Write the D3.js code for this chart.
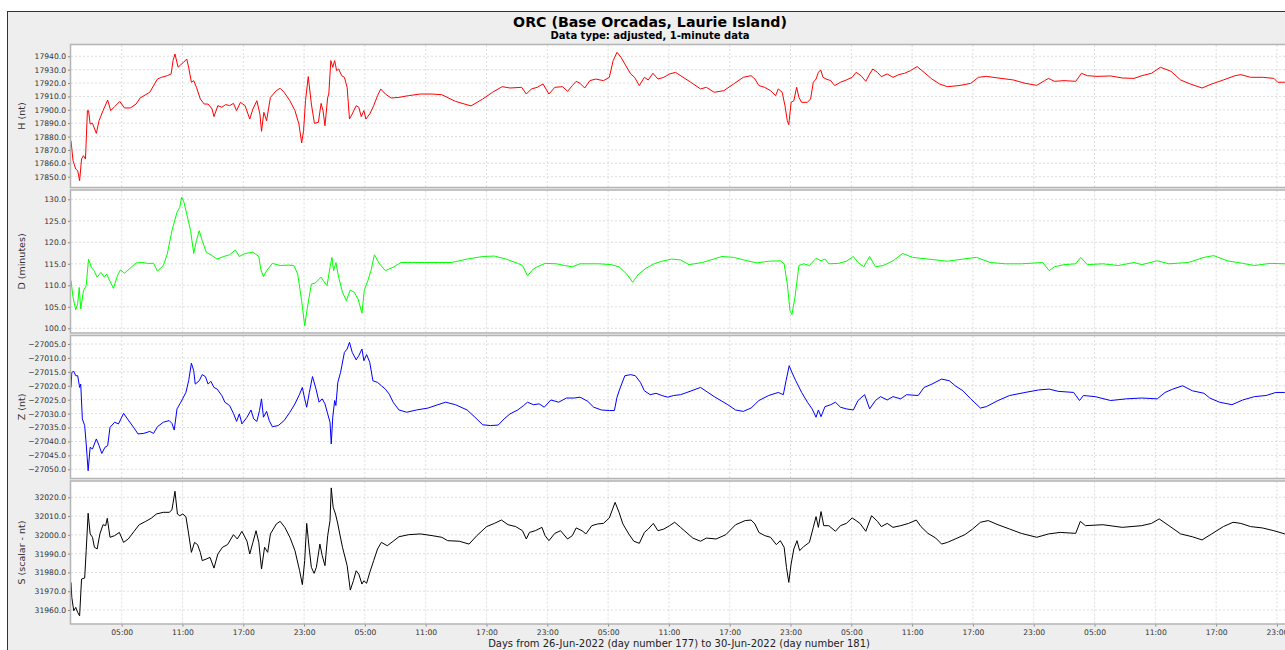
<!DOCTYPE html>
<html><head><meta charset="utf-8">
<script src="https://cdn.jsdelivr.net/npm/d3@7"></script>
<style>body{margin:0;background:#fff;overflow:hidden}svg{display:block;font-family:"DejaVu Sans",sans-serif}</style>
</head><body><svg id="c" width="1285" height="650"></svg>
<script>
const title = "ORC (Base Orcadas, Laurie Island)";
const subtitle = "Data type: adjusted, 1-minute data";
const xAxisTitle = "Days from 26-Jun-2022 (day number 177) to 30-Jun-2022 (day number 181)";
const startUTC = Date.UTC(2022, 5, 26);
const totalHours = 120;
const xTickHours = [5,11,17,23,29,35,41,47,53,59,65,71,77,83,89,95,101,107,113,119];
const yLabels = ["H (nt)", "D (minutes)", "Z (nt)", "S (scalar - nt)"];
const hTicks = [17850,17860,17870,17880,17890,17900,17910,17920,17930,17940];
const dTicks = [100,105,110,115,120,125,130];
const zTicks = [-27050,-27045,-27040,-27035,-27030,-27025,-27020,-27015,-27010,-27005];
const sTicks = [31960,31970,31980,31990,32000,32010,32020];
const hDomain = [17842.3, 17948.45];
const dDomain = [99.02, 132.05];
const zDomain = [-27053.12, -27002.13];
const sDomain = [31952.81, 32028.41];

// [hours since 26-Jun-2022 00:00 UT, value]
const H = [[0,17876.9],[0.2,17862],[0.47,17855.7],[0.66,17854.5],[0.85,17847],[1.04,17863.2],[1.23,17865.7],[1.43,17863.2],[1.62,17899.4],[1.73,17899.4],[1.89,17889.4],[2.12,17889.9],[2.5,17882.4],[2.77,17891.9],[3.16,17899.4],[3.62,17907.3],[3.92,17899.4],[4.31,17902.4],[4.81,17906.3],[5.27,17901.4],[5.85,17901.4],[6.42,17904.3],[6.81,17908.8],[7.77,17913.1],[8.53,17923],[8.92,17924.3],[9.5,17925.5],[9.88,17926.8],[10.07,17936.8],[10.26,17941.7],[10.57,17931.8],[10.84,17933.8],[11.11,17935.5],[11.42,17938],[11.61,17931.8],[11.88,17920.6],[12.11,17921.8],[12.38,17916.8],[12.76,17908.1],[13.15,17904.3],[13.53,17904.3],[13.92,17900.6],[14.11,17894.9],[14.49,17903.1],[14.88,17901.9],[15.26,17903.9],[15.65,17903.1],[16.03,17904.8],[16.34,17899.4],[16.72,17905.6],[17.18,17903.1],[17.64,17893.1],[17.95,17900.6],[18.34,17906.8],[18.64,17896.9],[18.8,17883.9],[19.03,17898.1],[19.3,17891.9],[19.68,17909.3],[20.26,17914.3],[20.64,17916.1],[21.03,17913.1],[21.6,17906.8],[22.1,17899.4],[22.49,17889.4],[22.76,17875.2],[22.95,17884.4],[23.14,17906.8],[23.41,17924.8],[23.72,17904.3],[24.02,17889.9],[24.41,17890.6],[24.68,17904.8],[24.87,17899.4],[25.06,17888.1],[25.33,17909.3],[25.44,17911.8],[25.64,17936.8],[25.83,17931.8],[26.02,17936.8],[26.21,17929.3],[26.41,17930.5],[26.71,17925.5],[26.98,17924.3],[27.25,17916.8],[27.48,17893.1],[27.75,17896.9],[28.14,17903.1],[28.4,17901.9],[28.64,17894.9],[28.9,17899.4],[29.1,17893.1],[29.48,17896.9],[29.87,17903.1],[30.25,17910.6],[30.56,17915.6],[31.02,17911.8],[31.6,17908.8],[32.36,17909.3],[33.32,17910.6],[34.48,17911.8],[35.63,17911.8],[36.59,17911.3],[37.94,17906.3],[39.47,17902.9],[40.63,17908.1],[41.59,17913.1],[42.55,17917.3],[43.32,17916.3],[44.47,17916.8],[44.93,17911.8],[45.43,17915.6],[46.01,17916.8],[46.58,17919.3],[47.16,17911.8],[47.74,17916.8],[48.5,17917.3],[49,17913.8],[49.47,17918.1],[49.85,17921.3],[50.23,17919.8],[50.69,17916.3],[51.2,17921.8],[51.77,17923],[52.54,17921.8],[53.12,17924.3],[53.5,17936.8],[53.88,17943],[54.27,17939.3],[54.65,17934.3],[55.23,17926.8],[55.61,17924.3],[56.08,17918.1],[56.58,17924.3],[56.96,17922.3],[57.42,17927.3],[57.92,17923],[58.5,17924.3],[59.07,17926.8],[59.65,17928],[60.4,17924.3],[61.16,17920.6],[62.12,17915.6],[62.7,17916.8],[63.47,17913.1],[64.42,17914.3],[65.38,17919.3],[66.34,17924.3],[67.11,17925.5],[67.49,17923],[67.88,17918.1],[68.45,17916.8],[69.03,17914.3],[69.53,17910.6],[69.79,17915.6],[70.18,17913.1],[70.45,17903.1],[70.68,17891.9],[70.83,17888.9],[71.06,17905.6],[71.33,17906.8],[71.6,17916.8],[71.83,17909.3],[72.09,17905.6],[72.67,17905.6],[72.98,17908.1],[73.25,17920.6],[73.52,17923],[73.75,17928],[73.98,17929.8],[74.21,17924.3],[74.51,17923],[74.97,17921.8],[75.36,17918.1],[75.93,17920.6],[76.51,17922.3],[77.08,17924.3],[77.47,17928],[77.96,17925.5],[78.43,17921.3],[78.81,17926.8],[79.12,17930.5],[79.58,17928],[79.96,17924.8],[80.54,17926.8],[81.11,17924.3],[81.69,17926.3],[82.26,17927.3],[82.84,17929.3],[83.49,17932.3],[84.18,17928],[84.95,17923],[85.71,17919.3],[86.48,17917.3],[87.63,17918.1],[88.78,17919.8],[89.55,17924.3],[90.32,17925],[91.47,17923.8],[93,17922.3],[94.15,17919.8],[95.3,17918.3],[96.07,17921.8],[96.46,17923.5],[97.03,17921.3],[97.99,17921.8],[99.14,17921.3],[99.71,17927.3],[100.29,17925.5],[101.25,17925],[102.59,17925.3],[103.74,17923.8],[104.89,17923.5],[105.66,17925.5],[106.62,17927.3],[107.5,17931.8],[108.54,17928.8],[109.5,17922.3],[110.45,17919.3],[111.61,17916.3],[112.56,17919.3],[113.71,17922.3],[114.87,17925.5],[115.44,17926.3],[116.4,17924.3],[117.55,17924.3],[118.7,17923.5],[119.08,17920.6],[119.78,17920.6]];

const D = [[0,111.1],[0.2,107.2],[0.47,104.3],[0.66,105.7],[0.81,109.5],[0.96,104.5],[1.23,108.8],[1.5,109.9],[1.73,116.1],[2,114.2],[2.27,113.4],[2.58,111.9],[2.96,113],[3.27,111.9],[3.54,112.6],[3.73,111.5],[4.19,109.3],[4.58,112.2],[4.88,113.6],[5.27,112.8],[5.85,114],[6.42,115.2],[7,115.3],[7.57,115.1],[8.15,115.1],[8.53,113.3],[9.11,114.6],[9.5,117.3],[9.96,122.7],[10.46,127],[10.73,128.1],[10.92,130.5],[11.15,129.3],[11.42,126.6],[11.8,122.7],[12.11,117.4],[12.38,120.4],[12.65,122.7],[12.95,120.4],[13.34,117.7],[13.92,116.9],[14.42,116.1],[15.07,116.7],[15.65,117.1],[16.22,118.2],[16.61,116.7],[17.18,117.4],[17.95,117.7],[18.53,116.7],[18.72,113.8],[18.99,112],[19.3,113.4],[19.87,115.1],[20.64,114.6],[21.41,114.7],[21.99,114.6],[22.37,112.6],[22.76,106.4],[23.06,100.6],[23.33,104.9],[23.72,110.3],[24.1,110.5],[24.68,111.9],[24.95,110.9],[25.26,109.9],[25.56,114.2],[25.75,116.5],[25.91,113.4],[26.14,115.3],[26.41,111.9],[26.79,108.4],[27.17,106.4],[27.56,108.9],[27.94,108.4],[28.33,106.8],[28.71,103.5],[28.94,108.8],[29.29,111.1],[29.6,113.4],[29.94,117.1],[30.44,115],[31.02,113.4],[31.79,114.2],[32.56,115.3],[33.71,115.3],[34.86,115.3],[36.4,115.3],[37.55,115.3],[39.09,116.1],[40.63,116.7],[41.78,116.8],[42.93,116.1],[44.08,115.1],[44.55,114.6],[45.05,112.2],[45.62,113.8],[46.01,114.3],[46.78,115.1],[47.93,115],[48.7,114.6],[49.47,114.3],[50.23,115],[51,115],[52.16,115],[53.31,114.8],[54.08,114.3],[54.85,112.6],[55.42,110.7],[56,112.6],[56.77,114],[57.54,115],[58.3,115.6],[59.26,116.1],[60.15,115.9],[60.97,114.8],[62.31,115.3],[64.23,116.7],[65.38,116.5],[66.73,115.7],[67.69,115.2],[68.84,115.6],[69.99,115.7],[70.37,115],[70.68,110.3],[70.95,104.1],[71.14,103.2],[71.44,107.2],[71.83,114.6],[72.29,115],[72.86,114.6],[73.52,116.3],[74.01,115.7],[74.4,116.1],[74.78,115],[75.74,115.1],[76.51,115.6],[77.2,116.7],[77.66,115.3],[78.23,114.3],[78.81,116.7],[79.38,114.3],[80.15,114.6],[81.11,115.7],[82.07,117.4],[83.03,116.5],[84.56,116.1],[86.48,115.6],[88.01,116.1],[89.36,116.5],[90.7,115.3],[92.23,115],[93.77,115],[95.88,115.3],[96.53,113.4],[97.03,114.3],[97.99,114.8],[99.14,115],[99.64,116.5],[100.29,114.8],[101.82,115],[103.36,114.6],[104.89,115.3],[105.66,114.8],[107.19,115.7],[108.34,115],[110.26,115.3],[111.8,116.5],[112.76,116.9],[114.1,115.7],[115.63,115.1],[116.78,114.6],[118.32,115.1],[119.78,115]];

const Z = [[0,-27020.6],[0.08,-27015.2],[0.27,-27014.8],[0.47,-27016.4],[0.66,-27016.4],[0.85,-27020.6],[0.96,-27019.4],[1.12,-27031.9],[1.35,-27034.3],[1.5,-27040.9],[1.69,-27050.5],[1.89,-27042.1],[2.12,-27042.7],[2.5,-27039.1],[2.77,-27041.5],[3.04,-27044.3],[3.35,-27042.1],[3.62,-27041.5],[3.85,-27034.9],[4.31,-27033.1],[4.69,-27033.7],[5.19,-27029.9],[5.65,-27032.3],[6.23,-27035.2],[6.61,-27037.3],[7.19,-27037.1],[7.77,-27036.4],[8.15,-27037.1],[8.53,-27034.7],[9.11,-27033.1],[9.69,-27032.5],[9.96,-27033.5],[10.19,-27035.9],[10.46,-27028.3],[10.84,-27025.9],[11.34,-27022.4],[11.61,-27018.2],[11.88,-27011.9],[12.11,-27014.6],[12.26,-27019.4],[12.65,-27018.2],[12.95,-27016],[13.26,-27016.7],[13.53,-27019.4],[13.8,-27018.4],[14.11,-27020.6],[14.42,-27021.2],[14.88,-27023.5],[15.18,-27025.9],[15.65,-27027.1],[16.03,-27029.9],[16.34,-27032.8],[16.61,-27030.1],[16.87,-27033.7],[17.37,-27031.3],[17.76,-27028.7],[18.03,-27031.9],[18.34,-27032.8],[18.6,-27028.9],[18.8,-27024.7],[18.99,-27031.3],[19.3,-27029.2],[19.56,-27032.5],[19.87,-27034.7],[20.45,-27034.3],[21.03,-27032.5],[21.6,-27029.5],[22.1,-27026.5],[22.56,-27023],[22.83,-27020.6],[23.06,-27024.7],[23.26,-27027.7],[23.52,-27022.4],[23.83,-27016.7],[24.18,-27021.2],[24.48,-27025.9],[24.79,-27024.7],[25.06,-27026.5],[25.33,-27030.1],[25.56,-27033.1],[25.68,-27040.9],[25.83,-27031.3],[26.02,-27025.3],[26.14,-27027.1],[26.33,-27018.8],[26.6,-27015.2],[26.98,-27008],[27.25,-27006.8],[27.48,-27004.4],[27.75,-27008],[28.14,-27010.7],[28.4,-27009.2],[28.71,-27006.8],[28.9,-27011],[29.17,-27008.8],[29.48,-27011.6],[29.79,-27018.2],[30.25,-27018.8],[30.63,-27020],[31.02,-27021.2],[31.4,-27023],[31.79,-27025.9],[32.36,-27028.7],[33.13,-27029.5],[34.09,-27028.7],[35.24,-27028],[36.2,-27026.8],[36.97,-27025.9],[37.94,-27026.8],[39.09,-27028.7],[39.86,-27031.3],[40.63,-27034],[41.4,-27034.3],[42.16,-27034.1],[42.74,-27031.9],[43.32,-27030.1],[44.08,-27028.7],[44.66,-27027.1],[45.05,-27025.9],[45.62,-27026.8],[46.2,-27026.5],[46.7,-27027.7],[47.35,-27025.1],[48.12,-27025.9],[48.89,-27024.4],[49.66,-27024.4],[50.23,-27024.1],[51,-27025.6],[51.58,-27027.7],[52.35,-27028.7],[53.12,-27028.9],[53.62,-27028.9],[53.88,-27024.1],[54.15,-27021.2],[54.65,-27016.4],[55.23,-27016],[55.69,-27016.4],[56.19,-27018.8],[56.58,-27021.8],[57.15,-27023.2],[57.73,-27022.7],[58.3,-27023.5],[58.88,-27024.1],[59.46,-27023.5],[60.15,-27023.2],[60.78,-27022.4],[62.12,-27020.6],[63.47,-27023.9],[64.81,-27026.8],[65.58,-27028.7],[66.34,-27029.2],[67.11,-27028],[67.88,-27025.3],[68.84,-27023.5],[69.79,-27022.4],[70.29,-27023.2],[70.56,-27018.2],[70.87,-27012.8],[71.14,-27015.2],[71.52,-27018.2],[72.1,-27022.4],[72.67,-27025.9],[73.13,-27028.3],[73.52,-27031.3],[73.75,-27028.7],[74.01,-27031.1],[74.4,-27027.5],[74.97,-27026.8],[75.43,-27025.9],[75.93,-27027.7],[76.51,-27028.3],[77.2,-27028.7],[77.66,-27025.3],[78.31,-27023.2],[78.81,-27028.3],[79.38,-27025.3],[79.88,-27023.9],[80.54,-27025.1],[81.11,-27023.9],[81.88,-27024.7],[82.45,-27023.2],[83.6,-27023.5],[84.18,-27020.6],[84.95,-27019.4],[85.91,-27017.6],[86.67,-27018.2],[87.25,-27020],[88.01,-27021.8],[88.78,-27024.7],[89.74,-27028],[90.32,-27027.5],[91.47,-27025.3],[92.62,-27023.5],[94.15,-27022.4],[95.49,-27021.5],[96.53,-27021.2],[97.41,-27022],[98.94,-27022.4],[99.52,-27025.3],[99.9,-27023.5],[101.06,-27023.9],[102.59,-27025.3],[104.13,-27024.7],[105.66,-27024.4],[107.19,-27024.7],[107.96,-27022.4],[108.73,-27021.2],[109.69,-27020],[110.65,-27021.8],[111.8,-27022.7],[112.37,-27024.4],[113.33,-27025.9],[114.56,-27026.8],[115.63,-27025.1],[116.78,-27023.9],[117.93,-27023.5],[118.89,-27022.4],[119.78,-27022.4]];

const S = [[0,31974.7],[0.08,31966.7],[0.27,31959.6],[0.47,31961.4],[0.66,31958.7],[0.85,31956.9],[1.04,31976.5],[1.35,31977],[1.5,31991.6],[1.69,32011.5],[1.89,32000.5],[2.12,31998.7],[2.31,31993.4],[2.58,31992.5],[2.85,32000.5],[3.16,32005.4],[3.42,32004.9],[3.58,32008.8],[3.85,31998.7],[4.31,31999.6],[4.77,32001.3],[5.19,31996],[5.65,31997.8],[6.23,32001.9],[6.73,32005.4],[7.38,32007.2],[7.96,32009],[8.42,32011.1],[9.11,32012],[9.69,32012],[9.96,32013.3],[10.26,32023.2],[10.5,32011.1],[10.73,32010.2],[11.03,32011.1],[11.34,32009.7],[11.61,32000.5],[11.88,31990.7],[12.19,31996],[12.49,31994.8],[12.76,31990.7],[12.95,31986.3],[13.34,31987.1],[13.72,31988],[14.11,31982.3],[14.49,31989.8],[14.95,31993.4],[15.45,31994.8],[16.03,32000.1],[16.41,31997.8],[16.87,32001.9],[17.37,31996.6],[17.64,31989.8],[17.95,31996],[18.26,32002.2],[18.53,31996],[18.8,31981.8],[19.1,31993.4],[19.41,31990.7],[19.68,32000.5],[20.26,32005.8],[20.64,32007.2],[21.1,32004],[21.6,31998.7],[22.1,31991.6],[22.56,31980.9],[22.83,31973.5],[23.06,31986.3],[23.26,32006.1],[23.49,31993.4],[23.72,31982.7],[23.99,31979.5],[24.21,31982.7],[24.56,31995.1],[24.79,31988.9],[25.06,31983.6],[25.33,31999.6],[25.56,32007.6],[25.68,32025],[25.87,32014.7],[26.1,32011.1],[26.33,32005.8],[26.52,32000.5],[26.79,31993.4],[27.25,31983.6],[27.56,31970.6],[27.87,31975.6],[28.14,31980.9],[28.4,31979.1],[28.71,31973.8],[28.9,31975.6],[29.17,31974.2],[29.48,31980],[29.87,31986.3],[30.25,31992.5],[30.63,31996],[31.21,31994.2],[31.79,31996.6],[32.36,31999],[33.32,32000.1],[34.48,32000.5],[35.63,31999.6],[36.59,31998.7],[37.17,31996.9],[38.32,31996.6],[39.28,31995.1],[40.05,31999.6],[41.01,32004.4],[41.78,32006.1],[42.47,32007.9],[43.13,32005.4],[43.89,32004.4],[44.55,32002.2],[44.93,31997.8],[45.24,32001.3],[45.81,32002.2],[46.47,32004],[46.78,31999.6],[47.16,31996.9],[47.74,32000.8],[48.31,32002.2],[49,31997.8],[49.47,31999.6],[49.85,32003.7],[50.43,32002.2],[50.81,32000.5],[51.39,32004.9],[51.96,32005.8],[52.54,32006.1],[53.12,32009],[53.69,32017.3],[54.08,32012],[54.46,32005.8],[55.04,32000.5],[55.54,31996.6],[56.08,31995.5],[56.58,32001.3],[56.96,32003.1],[57.46,32006.1],[57.92,32002.2],[58.5,32003.1],[59.07,32004.9],[59.57,32006.7],[60.15,32004],[61.36,31998.3],[62.12,31996.6],[62.7,31998.3],[63.66,31997.8],[64.62,32000.1],[65.58,32005.4],[66.53,32007.6],[67.11,32007.9],[67.49,32005.8],[67.88,32001.3],[68.45,31999.6],[69.03,31998.7],[69.6,31994.8],[69.99,31996.9],[70.37,31993.4],[70.6,31982.7],[70.83,31974.7],[71.06,31984.5],[71.33,31992.5],[71.64,31996.9],[71.9,31991.6],[72.29,31993.7],[72.86,31996],[73.25,32004],[73.52,32009.7],[73.75,32004],[74.01,32012.4],[74.28,32004.9],[74.78,32004.9],[75.43,32001.9],[75.93,32004.9],[76.51,32006.1],[77.08,32009],[77.47,32007.6],[77.85,32006.1],[78.43,32001.9],[79,32010.2],[79.58,32007.2],[79.96,32004.4],[80.54,32006.1],[81.11,32004],[81.88,32004.9],[82.65,32006.1],[83.41,32007.9],[83.87,32004.4],[84.56,32000.8],[85.33,31998.3],[85.91,31995.1],[86.48,31996],[87.25,31997.8],[88.2,32000.1],[88.97,32003.1],[89.74,32006.7],[90.51,32007.6],[91.47,32005.4],[92.62,32003.1],[93.77,32000.8],[95.3,31998.7],[96.46,32000.5],[97.61,32001.3],[99.14,32000.8],[99.6,32007.2],[100.1,32004.9],[101.82,32005.4],[103.74,32004],[105.66,32004.9],[106.62,32006.1],[107.38,32008.5],[108.34,32004.9],[109.5,32000.5],[110.65,31999],[111.61,31997.3],[112.56,32000.5],[113.71,32004.4],[114.67,32006.7],[115.44,32006.1],[116.4,32004.4],[117.55,32003.7],[118.7,32002.2],[119.78,32000.5]];

const seriesColors = ["#ff0000", "#00ff00", "#0000ff", "#000000"];

const panels = [
  {data: H, domain: hDomain, ticks: hTicks, label: yLabels[0], color: seriesColors[0]},
  {data: D, domain: dDomain, ticks: dTicks, label: yLabels[1], color: seriesColors[1]},
  {data: Z, domain: zDomain, ticks: zTicks, label: yLabels[2], color: seriesColors[2]},
  {data: S, domain: sDomain, ticks: sTicks, label: yLabels[3], color: seriesColors[3]}
];

const svg = d3.select("#c");
const hourMs = 3600000;
const toDate = h => new Date(startUTC + h * hourMs);

const plotLeft = 71, plotRight = 71 + 10.134 * totalHours;
const panelTop = 45, panelH = 142, panelGap = 3.5;

const x = d3.scaleUtc().domain([toDate(0), toDate(totalHours)]).range([plotLeft, plotRight]);
const fmt = d3.utcFormat("%H:%M");

// chart frame
svg.append("rect").attr("x", 7.5).attr("y", 11.5).attr("width", 1300).attr("height", 660)
  .attr("fill", "#eeeeee").attr("stroke", "#333").attr("stroke-width", 1);

svg.append("text").attr("x", 650).attr("y", 27).attr("text-anchor", "middle")
  .attr("font-size", "14.2px").attr("font-weight", "bold").attr("fill", "#000").text(title);
svg.append("text").attr("x", 650).attr("y", 38.5).attr("text-anchor", "middle")
  .attr("font-size", "10px").attr("font-weight", "bold").attr("fill", "#000").text(subtitle);

const defs = svg.append("defs");

panels.forEach((p, i) => {
  const top = panelTop + i * (panelH + panelGap);
  const bottom = top + panelH;
  const y = d3.scaleLinear().domain(p.domain).range([bottom, top]);
  const g = svg.append("g");

  g.append("rect").attr("x", plotLeft).attr("y", top).attr("width", plotRight - plotLeft).attr("height", panelH)
    .attr("fill", "#fff");

  // grid
  g.append("g").selectAll("line").data(xTickHours).join("line")
    .attr("x1", h => x(toDate(h))).attr("x2", h => x(toDate(h)))
    .attr("y1", top).attr("y2", bottom)
    .attr("stroke", "#d4d4d4").attr("stroke-width", 0.8).attr("stroke-dasharray", "2,2");
  g.append("g").selectAll("line").data(p.ticks).join("line")
    .attr("x1", plotLeft).attr("x2", plotRight)
    .attr("y1", v => y(v)).attr("y2", v => y(v))
    .attr("stroke", "#d4d4d4").attr("stroke-width", 0.8).attr("stroke-dasharray", "2,2");

  // series
  const clipId = "clip" + i;
  defs.append("clipPath").attr("id", clipId).append("rect")
    .attr("x", plotLeft).attr("y", top).attr("width", plotRight - plotLeft).attr("height", panelH);
  const line = d3.line().x(d => x(toDate(d[0]))).y(d => y(d[1]));
  g.append("path").datum(p.data).attr("d", line).attr("fill", "none")
    .attr("stroke", p.color).attr("stroke-width", 1).attr("stroke-linejoin", "round")
    .attr("clip-path", `url(#${clipId})`);

  // border
  g.append("rect").attr("x", plotLeft - 0.5).attr("y", top - 0.5).attr("width", plotRight - plotLeft + 1).attr("height", panelH + 1)
    .attr("fill", "none").attr("stroke", "#b4b4b4").attr("stroke-width", 1.5);

  // y axis
  const yAxis = d3.axisLeft(y).tickValues(p.ticks).tickFormat(d3.format(".1f")).tickSize(2).tickPadding(2);
  const ya = g.append("g").attr("transform", `translate(${plotLeft - 1},0)`).call(yAxis);
  ya.select(".domain").remove();
  ya.selectAll("line").attr("stroke", "#888");
  ya.selectAll("text").attr("font-size", "7.6px").attr("fill", "#333").attr("font-family", "DejaVu Sans, sans-serif");

  g.append("text").attr("transform", `translate(25,${(top + bottom) / 2}) rotate(-90)`)
    .attr("text-anchor", "middle").attr("font-size", "9.5px").attr("fill", "#333").text(p.label);

  if (i === panels.length - 1) {
    const xAxis = d3.axisBottom(x).tickValues(xTickHours.map(toDate)).tickFormat(fmt).tickSize(2).tickPadding(3);
    const xa = g.append("g").attr("transform", `translate(0,${bottom + 1})`).call(xAxis);
    xa.select(".domain").remove();
    xa.selectAll("line").attr("stroke", "#888");
    xa.selectAll("text").attr("font-size", "7.6px").attr("fill", "#333").attr("font-family", "DejaVu Sans, sans-serif");
  }
});

svg.append("text").attr("x", (plotLeft + plotRight) / 2).attr("y", 646.5).attr("text-anchor", "middle")
  .attr("font-size", "10px").attr("fill", "#222").text(xAxisTitle);
</script></body></html>
